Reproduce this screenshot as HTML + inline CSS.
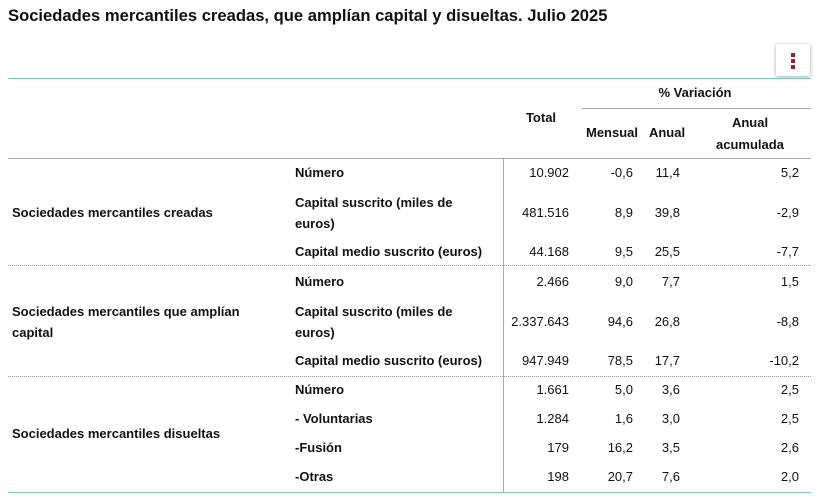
<!DOCTYPE html>
<html><head><meta charset="utf-8"><style>
body{margin:0;width:826px;height:502px;background:#fff;font-family:"Liberation Sans",Arial,sans-serif;color:#111;position:relative;overflow:hidden}
.a{position:absolute;font-size:13px;line-height:16px;white-space:nowrap}
.b{font-weight:bold}
.r{text-align:right}
.c{text-align:center}
.h{position:absolute;height:0}
</style></head><body>
<div class="a b" style="left:8px;top:6px;font-size:16.6px;line-height:20px">Sociedades mercantiles creadas, que amplían capital y disueltas. Julio 2025</div>
<div style="position:absolute;left:776px;top:44px;width:34px;height:32px;background:#fff;box-shadow:0 1px 4px rgba(0,0,0,.35)">
<div style="position:absolute;left:15px;top:9px;width:4px;height:4px;background:#9b1b3b"></div>
<div style="position:absolute;left:15px;top:15px;width:4px;height:4px;background:#9b1b3b"></div>
<div style="position:absolute;left:15px;top:21px;width:4px;height:4px;background:#9b1b3b"></div>
</div>
<div class="h" style="left:8px;top:78px;width:803px;border-top:1px solid #7fc3bf"></div>
<div class="a b c" style="left:640px;top:85px;width:110px">% Variación</div>
<div class="h" style="left:582px;top:108px;width:229px;border-top:1px solid #aaa"></div>
<div class="a b c" style="left:511px;top:110px;width:60px">Total</div>
<div class="a b c" style="left:582px;top:125px;width:60px">Mensual</div>
<div class="a b c" style="left:642px;top:125px;width:50px">Anual</div>
<div class="a b c" style="left:700px;top:112px;width:100px;line-height:22px">Anual<br>acumulada</div>
<div class="h" style="left:8px;top:158px;width:803px;border-top:1px solid #aaa"></div>
<div style="position:absolute;left:503px;top:158px;width:0;height:334px;border-left:1px solid #aaa"></div>
<div class="h" style="left:8px;top:265px;width:803px;border-top:1px dotted #999"></div>
<div class="h" style="left:8px;top:376px;width:803px;border-top:1px dotted #999"></div>
<div class="h" style="left:8px;top:492px;width:803px;border-top:1px solid #7fc3bf"></div>

<div class="a b" style="left:12px;top:205px">Sociedades mercantiles creadas</div>
<div class="a b" style="left:12px;top:301px;line-height:21px">Sociedades mercantiles que amplían<br>capital</div>
<div class="a b" style="left:12px;top:426px">Sociedades mercantiles disueltas</div>

<div class="a b" style="left:295px;top:165px">Número</div>
<div class="a b" style="left:295px;top:192px;line-height:21px">Capital suscrito (miles de<br>euros)</div>
<div class="a b" style="left:295px;top:244px">Capital medio suscrito (euros)</div>
<div class="a b" style="left:295px;top:274px">Número</div>
<div class="a b" style="left:295px;top:301px;line-height:21px">Capital suscrito (miles de<br>euros)</div>
<div class="a b" style="left:295px;top:353px">Capital medio suscrito (euros)</div>
<div class="a b" style="left:295px;top:382px">Número</div>
<div class="a b" style="left:295px;top:411px">- Voluntarias</div>
<div class="a b" style="left:295px;top:440px">-Fusión</div>
<div class="a b" style="left:295px;top:469px">-Otras</div>

<div id="nums"></div>
<script>
var rows=[[165,"10.902","-0,6","11,4","5,2"],[205,"481.516","8,9","39,8","-2,9"],[244,"44.168","9,5","25,5","-7,7"],
[274,"2.466","9,0","7,7","1,5"],[314,"2.337.643","94,6","26,8","-8,8"],[353,"947.949","78,5","17,7","-10,2"],
[382,"1.661","5,0","3,6","2,5"],[411,"1.284","1,6","3,0","2,5"],[440,"179","16,2","3,5","2,6"],[469,"198","20,7","7,6","2,0"]];
var R=[569,633,680,799],h="";
rows.forEach(function(r){for(var i=0;i<4;i++)h+='<div class="a r" style="left:'+(R[i]-100)+'px;width:100px;top:'+r[0]+'px">'+r[i+1]+'</div>';});
document.getElementById("nums").innerHTML=h;
</script>
</body></html>
